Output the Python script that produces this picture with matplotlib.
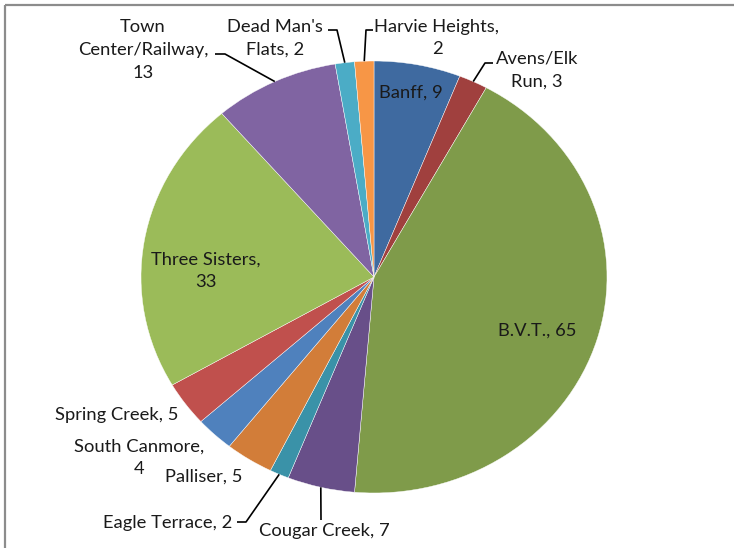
import numpy as np
import matplotlib
matplotlib.use("Agg")
import matplotlib.pyplot as plt
from matplotlib.patches import Rectangle

plt.rcParams['font.family'] = ['Lato', 'DejaVu Sans']

categories = ["Banff", "Avens/Elk Run", "B.V.T.", "Cougar Creek", "Eagle Terrace",
              "Palliser", "South Canmore", "Spring Creek", "Three Sisters",
              "Town Center/Railway", "Dead Man's Flats", "Harvie Heights"]
values = [9, 3, 65, 7, 2, 5, 4, 5, 33, 13, 2, 2]
label_texts = ["Banff, 9", "Avens/Elk\nRun, 3", "B.V.T., 65", "Cougar Creek, 7",
               "Eagle Terrace, 2", "Palliser, 5", "South Canmore,\n4", "Spring Creek, 5",
               "Three Sisters,\n33", "Town\nCenter/Railway,\n13", "Dead Man's\nFlats, 2",
               "Harvie Heights,\n2"]
colors = ["#3F6AA0", "#A0403E", "#7F9B4A", "#684F89", "#3A92A8", "#D27D39",
          "#4F81BD", "#C0504D", "#9BBB59", "#8064A2", "#4BACC6", "#F79646"]

W, H = 734, 548
fig = plt.figure(figsize=(W / 100, H / 100), dpi=100)
fig.patch.set_facecolor("white")

# pie axes (elliptical pie like the reference)
cx, cy, rx, ry = 374, 277, 233, 216
ax = fig.add_axes([(cx - rx) / W, 1 - (cy + ry) / H, 2 * rx / W, 2 * ry / H])
wedges, _ = ax.pie(values, colors=colors, startangle=90, counterclock=False,
                   radius=1, wedgeprops=dict(linewidth=0.3, edgecolor="white"))
ax.set_aspect('auto')
ax.set_xlim(-1, 1)
ax.set_ylim(-1, 1)
ax.axis('off')

# overlay in pixel coordinates
ov = fig.add_axes([0, 0, 1, 1])
ov.set_xlim(0, W)
ov.set_ylim(H, 0)
ov.axis('off')
ov.patch.set_alpha(0)

ov.add_patch(Rectangle((4.5, 5), W + 20, H + 20, fill=False, edgecolor="#8c8c8c", lw=1.6))

def edge_px(i, r=1.0):
    w = wedges[i]
    mid = np.deg2rad((w.theta1 + w.theta2) / 2)
    p = ax.transData.transform((r * np.cos(mid), r * np.sin(mid)))
    return ov.transData.inverted().transform(p)

# label positions (pixel centre) and leader elbows
lab_pos = {
    0: (411, 93), 1: (537, 70), 2: (537, 331), 3: (324, 531), 4: (168, 523),
    5: (204, 477), 6: (139, 458), 7: (117, 415), 8: (206, 271), 9: (143, 50),
    10: (275, 38), 11: (437, 38),
}
leaders = {
    1: [(493, 63), (485, 63)],
    3: [(321, 520)],
    4: [(237, 522), (246, 522)],
    9: [(215, 54), (225, 54)],
    10: [(328, 30), (337, 30)],
    11: [(373, 30), (366, 30)],
}

line_gap = 22.5
for i, txt in enumerate(label_texts):
    x, y = lab_pos[i]
    lines = txt.split("\n")
    n = len(lines)
    for k, line in enumerate(lines):
        yy = y + (k - (n - 1) / 2) * line_gap
        ov.text(x, yy, line, ha="center", va="center", fontsize=13.2,
                color="#1a1a1a")

for i, pts in leaders.items():
    ex, ey = edge_px(i)
    xs = [p[0] for p in pts] + [ex]
    ys = [p[1] for p in pts] + [ey]
    ov.plot(xs, ys, color="black", lw=1.2, solid_capstyle="butt")

fig.savefig("out.png", dpi=100, facecolor="white")
